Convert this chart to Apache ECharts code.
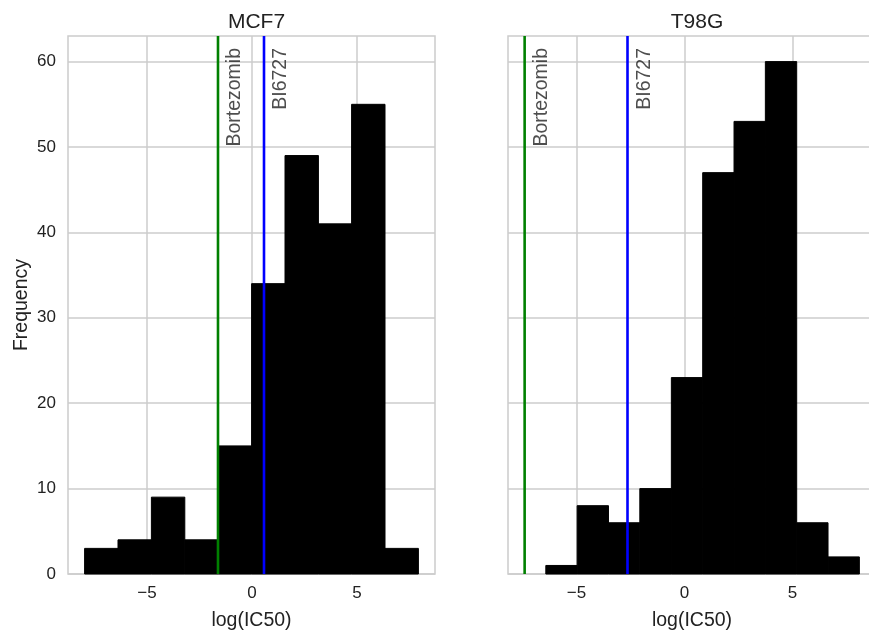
<!DOCTYPE html>
<html>
<head>
<meta charset="utf-8">
<script src="https://cdn.jsdelivr.net/npm/echarts@6/dist/echarts.min.js"></script>
<style>
html, body { margin: 0; padding: 0; background: #fff; }
#main { width: 869px; height: 633px; }
</style>
</head>
<body>
<div id="main"></div>
<script>
// histogram bins
var mcf7Edges = [-7.97, -6.38, -4.79, -3.20, -1.61, -0.02, 1.57, 3.16, 4.74, 6.33, 7.92];
var mcf7Counts = [3, 4, 9, 4, 15, 34, 49, 41, 55, 3];
var t98gEdges = [-6.42, -4.97, -3.52, -2.07, -0.61, 0.84, 2.29, 3.74, 5.19, 6.64, 8.09];
var t98gCounts = [1, 8, 6, 10, 23, 47, 53, 60, 6, 2];

var drugNames = ['Bortezomib', 'BI6727'];
var drugColors = ['#008000', '#0000ff'];
var mcf7Drugs = [-1.62, 0.57];
var t98gDrugs = [-7.40, -2.64];

var panelTitles = ['MCF7', 'T98G'];
var xTicks = [-5, 0, 5];
var yTicks = [0, 10, 20, 30, 40, 50, 60];
var yMax = 63;
var labelY = 61.6;

var font = 'Liberation Sans, Arial, sans-serif';
var textColor = '#222222';
var gridColor = '#cccccc';

function bins(edges, counts) {
    var out = [];
    for (var i = 0; i < counts.length; i++) {
        out.push([edges[i], edges[i + 1], counts[i]]);
    }
    return out;
}

function renderBar(params, api) {
    var p0 = api.coord([api.value(0), api.value(2)]);
    var p1 = api.coord([api.value(1), 0]);
    return {
        type: 'rect',
        shape: { x: p0[0], y: p0[1], width: p1[0] - p0[0], height: p1[1] - p0[1] },
        style: { fill: '#000000', stroke: '#000000', lineWidth: 1 }
    };
}

function fmtTick(v) {
    return v < 0 ? '\u2212' + Math.abs(v) : String(v);
}

function xAxisFor(idx, min, max) {
    return {
        type: 'value', gridIndex: idx, min: min, max: max,
        name: 'log(IC50)', nameLocation: 'middle', nameGap: 37,
        nameTextStyle: { fontFamily: font, fontSize: 19.5, color: textColor },
        axisLine: { show: false },
        axisTick: { show: false, customValues: xTicks },
        axisLabel: { customValues: xTicks, formatter: fmtTick, fontFamily: font, fontSize: 17, color: textColor, margin: 11 },
        splitLine: { show: true, lineStyle: { color: gridColor, width: 1.5 } }
    };
}

function yAxisFor(idx, showLabels) {
    return {
        type: 'value', gridIndex: idx, min: 0, max: yMax,
        name: showLabels ? 'Frequency' : '', nameLocation: 'middle', nameGap: 36,
        nameTextStyle: { fontFamily: font, fontSize: 19.5, color: textColor },
        axisLine: { show: false },
        axisTick: { show: false, customValues: yTicks },
        axisLabel: { show: showLabels, customValues: yTicks, fontFamily: font, fontSize: 17, color: textColor, margin: 12 },
        splitLine: { show: true, lineStyle: { color: gridColor, width: 1.5 } }
    };
}

function drugSeries(idx, positions) {
    var list = [];
    for (var i = 0; i < positions.length; i++) {
        list.push({
            type: 'line', xAxisIndex: idx, yAxisIndex: idx, z: 4,
            data: [[positions[i], 0], [positions[i], yMax]],
            symbol: 'none', silent: true,
            lineStyle: { color: drugColors[i], width: 2.6 }
        });
        list.push({
            type: 'scatter', xAxisIndex: idx, yAxisIndex: idx, z: 5,
            data: [[positions[i], labelY]],
            symbolSize: 0, silent: true,
            label: {
                show: true, formatter: drugNames[i], position: [0, 0],
                rotate: 90, align: 'right', verticalAlign: 'top', offset: [0, 7],
                fontFamily: font, fontSize: 19.5, color: textColor
            }
        });
    }
    return list;
}

var myChart = echarts.init(document.getElementById('main'));

var option = {
    animation: false,
    title: [
        { text: panelTitles[0], left: 251.5, top: 7, textAlign: 'center',
          textStyle: { fontFamily: font, fontSize: 21, fontWeight: 'normal', color: textColor } },
        { text: panelTitles[1], left: 692, top: 7, textAlign: 'center',
          textStyle: { fontFamily: font, fontSize: 21, fontWeight: 'normal', color: textColor } }
    ],
    grid: [
        { left: 68, top: 36, width: 367, height: 538, show: true, borderColor: gridColor, borderWidth: 1.5,
          outerBoundsMode: 'none' },
        { left: 508, top: 36, width: 368, height: 538, show: true, borderColor: gridColor, borderWidth: 1.5,
          outerBoundsMode: 'none' }
    ],
    xAxis: [xAxisFor(0, -8.76, 8.71), xAxisFor(1, -8.17, 8.86)],
    yAxis: [yAxisFor(0, true), yAxisFor(1, false)],
    series: [
        { type: 'custom', xAxisIndex: 0, yAxisIndex: 0, z: 3, renderItem: renderBar,
          data: bins(mcf7Edges, mcf7Counts), encode: { x: [0, 1], y: 2 } },
        { type: 'custom', xAxisIndex: 1, yAxisIndex: 1, z: 3, renderItem: renderBar,
          data: bins(t98gEdges, t98gCounts), encode: { x: [0, 1], y: 2 } }
    ].concat(drugSeries(0, mcf7Drugs)).concat(drugSeries(1, t98gDrugs))
};
myChart.setOption(option);
</script>
</body>
</html>
